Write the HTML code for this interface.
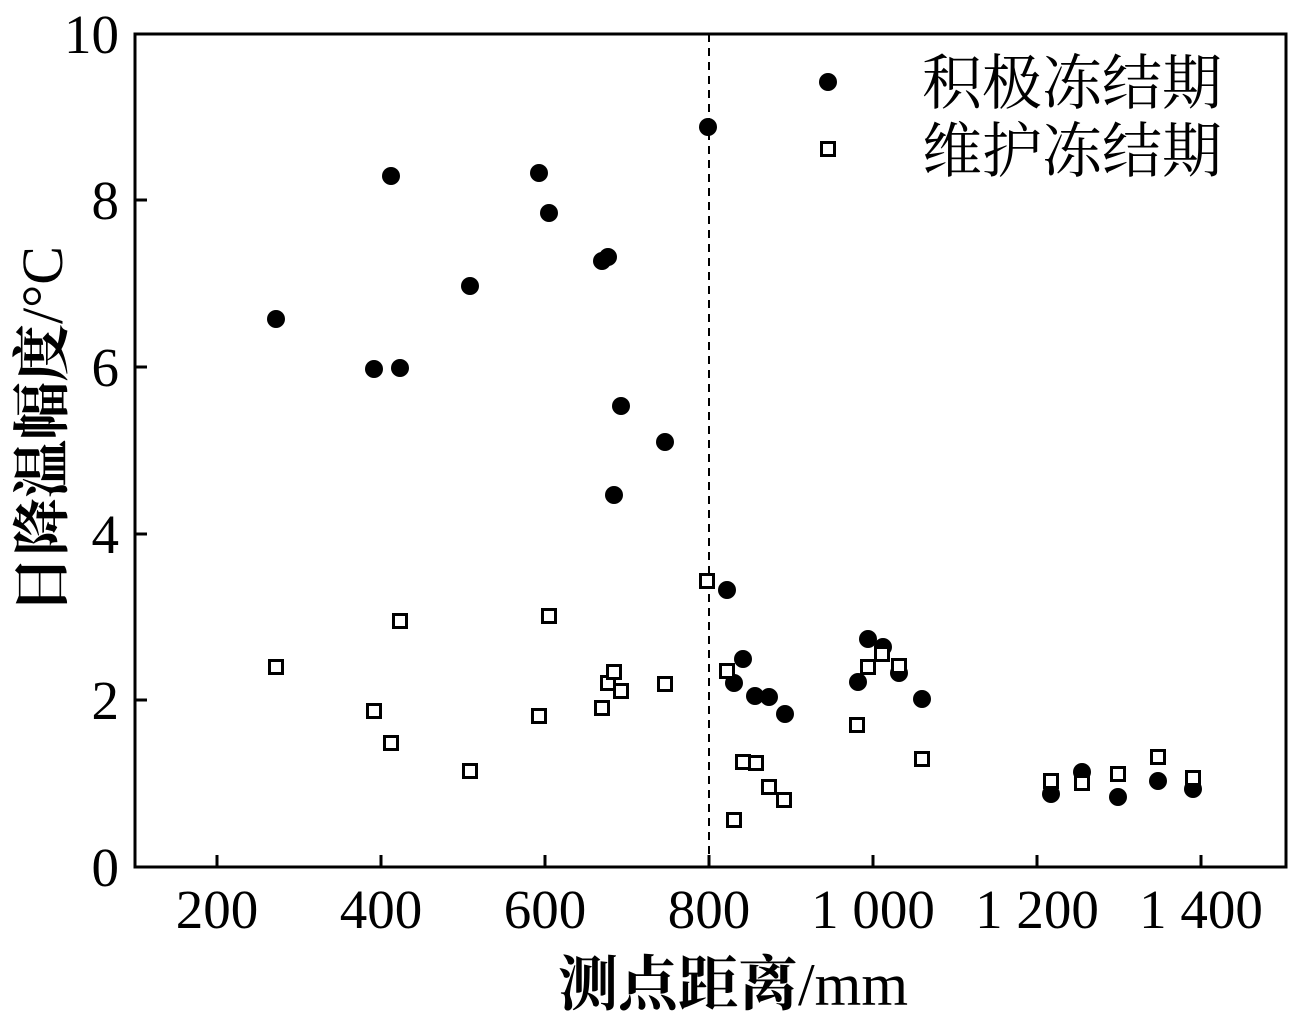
<!DOCTYPE html>
<html><head><meta charset="utf-8"><style>body{margin:0;background:#fff}svg{display:block}</style></head><body>
<svg width="1299" height="1024" viewBox="0 0 1299 1024" xmlns="http://www.w3.org/2000/svg" font-family="'Liberation Serif','Noto Serif CJK SC',serif">
<rect x="135" y="34" width="1151" height="833" fill="none" stroke="#000" stroke-width="3"/>
<line x1="709" y1="34" x2="709" y2="867" stroke="#000" stroke-width="2" stroke-dasharray="8,6"/>
<g stroke="#000" stroke-width="3">
<line x1="217" y1="867" x2="217" y2="855"/><line x1="381" y1="867" x2="381" y2="855"/><line x1="545" y1="867" x2="545" y2="855"/><line x1="709" y1="867" x2="709" y2="855"/><line x1="873" y1="867" x2="873" y2="855"/><line x1="1037" y1="867" x2="1037" y2="855"/><line x1="1201" y1="867" x2="1201" y2="855"/>
<line x1="135" y1="700" x2="147" y2="700"/><line x1="135" y1="534" x2="147" y2="534"/><line x1="135" y1="367" x2="147" y2="367"/><line x1="135" y1="200" x2="147" y2="200"/>
</g>
<g font-size="55" text-anchor="end">
<text x="119" y="886">0</text><text x="119" y="719">2</text><text x="119" y="553">4</text><text x="119" y="386">6</text><text x="119" y="219">8</text><text x="119" y="53">10</text>
</g>
<g font-size="55" text-anchor="middle">
<text x="217" y="928">200</text><text x="381" y="928">400</text><text x="545" y="928">600</text><text x="709" y="928">800</text><text x="873" y="928">1 000</text><text x="1037" y="928">1 200</text><text x="1201" y="928">1 400</text>
</g>
<text x="733" y="1005" font-size="60" text-anchor="middle"><tspan font-weight="bold">测点距离</tspan>/mm</text>
<text transform="translate(62,430) rotate(-90)" font-size="58" text-anchor="middle"><tspan font-weight="bold">日降温幅度</tspan>/°C</text>
<g fill="#000">
<circle cx="276" cy="319" r="9"/><circle cx="391" cy="176" r="9"/><circle cx="374" cy="369" r="9"/><circle cx="400" cy="368" r="9"/><circle cx="470" cy="286" r="9"/><circle cx="539" cy="173" r="9"/><circle cx="549" cy="213" r="9"/><circle cx="602" cy="261" r="9"/><circle cx="608" cy="257" r="9"/><circle cx="621" cy="406" r="9"/><circle cx="614" cy="495" r="9"/><circle cx="665" cy="442" r="9"/><circle cx="708" cy="127" r="9"/><circle cx="727" cy="590" r="9"/><circle cx="734" cy="683" r="9"/><circle cx="743" cy="659" r="9"/><circle cx="755" cy="696" r="9"/><circle cx="769" cy="697" r="9"/><circle cx="785" cy="714" r="9"/><circle cx="858" cy="682" r="9"/><circle cx="868" cy="639" r="9"/><circle cx="883" cy="647" r="9"/><circle cx="899" cy="673" r="9"/><circle cx="922" cy="699" r="9"/><circle cx="1051" cy="794" r="9"/><circle cx="1082" cy="772" r="9"/><circle cx="1118" cy="797" r="9"/><circle cx="1158" cy="781" r="9"/><circle cx="1193" cy="789" r="9"/>
<circle cx="828" cy="82" r="9"/>
</g>
<g fill="#fff" stroke="#000" stroke-width="3">
<rect x="269.5" y="660.5" width="13" height="13"/><rect x="367.5" y="704.5" width="13" height="13"/><rect x="384.5" y="736.5" width="13" height="13"/><rect x="393.5" y="614.5" width="13" height="13"/><rect x="463.5" y="764.5" width="13" height="13"/><rect x="532.5" y="709.5" width="13" height="13"/><rect x="542.5" y="609.5" width="13" height="13"/><rect x="595.5" y="701.5" width="13" height="13"/><rect x="601.5" y="676.5" width="13" height="13"/><rect x="607.5" y="665.5" width="13" height="13"/><rect x="614.5" y="684.5" width="13" height="13"/><rect x="658.5" y="677.5" width="13" height="13"/><rect x="700.5" y="574.5" width="13" height="13"/><rect x="720.5" y="664.5" width="13" height="13"/><rect x="727.5" y="813.5" width="13" height="13"/><rect x="736.5" y="755.5" width="13" height="13"/><rect x="749.5" y="756.5" width="13" height="13"/><rect x="762.5" y="780.5" width="13" height="13"/><rect x="777.5" y="793.5" width="13" height="13"/><rect x="850.5" y="718.5" width="13" height="13"/><rect x="861.5" y="660.5" width="13" height="13"/><rect x="875.5" y="647.5" width="13" height="13"/><rect x="892.5" y="659.5" width="13" height="13"/><rect x="915.5" y="752.5" width="13" height="13"/><rect x="1044.5" y="774.5" width="13" height="13"/><rect x="1075.5" y="776.5" width="13" height="13"/><rect x="1111.5" y="767.5" width="13" height="13"/><rect x="1151.5" y="750.5" width="13" height="13"/><rect x="1186.5" y="771.5" width="13" height="13"/>
<rect x="821.5" y="142.5" width="13" height="13"/>
</g>
<g font-size="60">
<text x="922" y="104">积极冻结期</text>
<text x="922" y="172">维护冻结期</text>
</g>
</svg>
</body></html>
